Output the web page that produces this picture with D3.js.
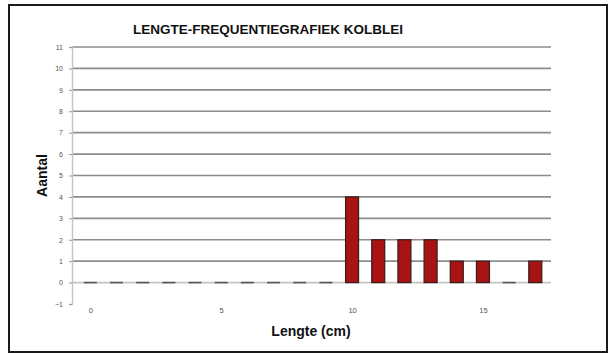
<!DOCTYPE html>
<html>
<head>
<meta charset="utf-8">
<script src="https://cdn.jsdelivr.net/npm/d3@7"></script>
<style>
  html, body { margin: 0; padding: 0; background: #fff; }
  svg { display: block; font-family: Arial, "Liberation Sans", Helvetica, sans-serif; }
</style>
</head>
<body>
<svg id="chart" width="609" height="354"></svg>
<script>
// Lengths (cm) and how many fish were counted at each length
const lengths = [0, 1, 2, 3, 4, 5, 6, 7, 8, 9, 10, 11, 12, 13, 14, 15, 16, 17];
const counts  = [0, 0, 0, 0, 0, 0, 0, 0, 0, 0, 4, 2, 2, 2, 1, 1, 0, 1];
const yTicks  = [-1, 0, 1, 2, 3, 4, 5, 6, 7, 8, 9, 10, 11];
const xTicks  = [0, 5, 10, 15];

const title  = "LENGTE-FREQUENTIEGRAFIEK KOLBLEI";
const xTitle = "Lengte (cm)";
const yTitle = "Aantal";

const svg = d3.select("#chart");

// outer frame
svg.append("rect")
  .attr("x", 9).attr("y", 5).attr("width", 598).attr("height", 347)
  .attr("fill", "#fff").attr("stroke", "#1a1a1a").attr("stroke-width", 2);

const plot = { left: 72, right: 551, top: 47, bottom: 304 };

const x = d3.scaleLinear().domain([-0.7, 17.6]).range([plot.left, plot.right]);
const y = d3.scaleLinear().domain([-1, 11]).range([plot.bottom, plot.top]);

// horizontal grid lines
svg.append("g")
  .selectAll("line")
  .data(yTicks.filter(d => d > 0))
  .join("line")
  .attr("x1", plot.left).attr("x2", plot.right)
  .attr("y1", d => y(d)).attr("y2", d => y(d))
  .attr("stroke", "#8c8c8c").attr("stroke-width", 1.6);

// zero line
svg.append("line")
  .attr("x1", plot.left).attr("x2", plot.right)
  .attr("y1", y(0)).attr("y2", y(0))
  .attr("stroke", "#c4c4c4").attr("stroke-width", 1.6);

// y axis
const yAxis = d3.axisLeft(y).tickValues(yTicks).tickSize(3).tickPadding(6);
const gy = svg.append("g").attr("transform", `translate(${plot.left},0)`).call(yAxis);
gy.select(".domain").attr("stroke", "#c4c4c4").attr("stroke-width", 1.4);
gy.selectAll(".tick line").attr("stroke", "#999");
gy.selectAll(".tick text").attr("fill", "#555").attr("font-size", 7).attr("font-family", "Arial, 'Liberation Sans', sans-serif");

// x tick labels
const xAxis = d3.axisBottom(x).tickValues(xTicks).tickSize(0).tickPadding(0).tickFormat(d3.format("d"));
const gx = svg.append("g").attr("transform", `translate(0,308)`).call(xAxis);
gx.select(".domain").remove();
gx.selectAll(".tick text").attr("fill", "#555").attr("font-size", 7.5).attr("font-family", "Arial, 'Liberation Sans', sans-serif");

// bars (zero counts collapse to a flat outline on the zero line)
const barW = 13;
const data = lengths.map((l, i) => ({ l, c: counts[i] }));
svg.append("g")
  .selectAll("rect")
  .data(data.filter(d => d.c !== 0))
  .join("rect")
  .attr("x", d => x(d.l) - barW / 2)
  .attr("y", d => y(Math.max(d.c, 0)))
  .attr("width", barW)
  .attr("height", d => Math.abs(y(d.c) - y(0)))
  .attr("fill", "#a81414")
  .attr("stroke", "#3a1a1a")
  .attr("stroke-width", 1.2);

svg.append("g")
  .selectAll("line")
  .data(data.filter(d => d.c === 0))
  .join("line")
  .attr("x1", d => x(d.l) - barW / 2)
  .attr("x2", d => x(d.l) + barW / 2)
  .attr("y1", y(0)).attr("y2", y(0))
  .attr("stroke", "#555").attr("stroke-width", 1.6);

// title
svg.append("text")
  .attr("x", 268).attr("y", 34)
  .attr("text-anchor", "middle")
  .attr("font-size", 13.5).attr("font-weight", "bold").attr("fill", "#111")
  .text(title);

// axis titles
svg.append("text")
  .attr("x", 311).attr("y", 336)
  .attr("text-anchor", "middle")
  .attr("font-size", 14).attr("font-weight", "bold").attr("fill", "#111")
  .text(xTitle);

svg.append("text")
  .attr("transform", `translate(47,${(plot.top + plot.bottom) / 2}) rotate(-90)`)
  .attr("text-anchor", "middle")
  .attr("font-size", 14).attr("font-weight", "bold").attr("fill", "#111")
  .text(yTitle);
</script>
</body>
</html>
